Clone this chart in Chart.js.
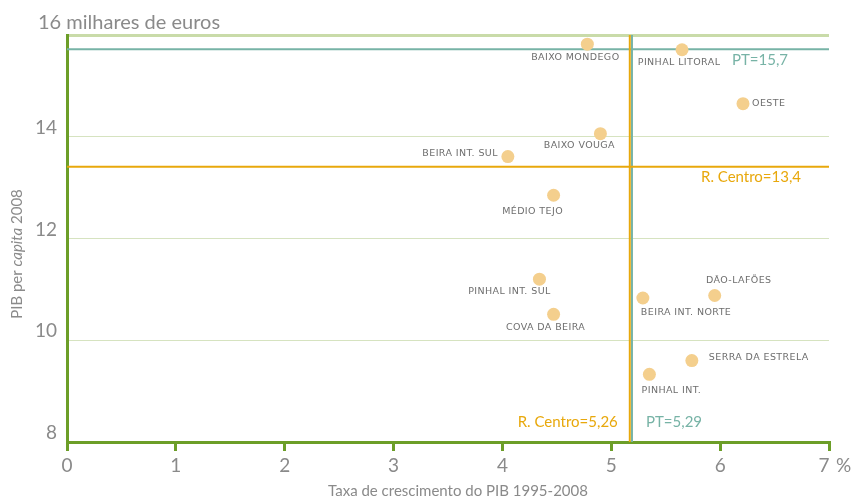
<!DOCTYPE html>
<html lang="pt">
<head>
  <meta charset="UTF-8" />
  <title>PIB per capita e crescimento - Região Centro</title>
  <script src="https://cdn.jsdelivr.net/npm/chart.js@4.4.1/dist/chart.umd.min.js"></script>
  <style>
    html, body { margin: 0; padding: 0; background: #fff; }
    #wrap { width: 852px; height: 499px; position: relative; }
  </style>
</head>
<body>
  <div id="wrap"><canvas id="chart"></canvas></div>

  <script>
    // data
    const regions = [
      "BAIXO MONDEGO", "PINHAL LITORAL", "OESTE", "BAIXO VOUGA",
      "BEIRA INT. SUL", "MÉDIO TEJO", "PINHAL INT. SUL", "COVA DA BEIRA",
      "BEIRA INT. NORTE", "DÃO-LAFÕES", "SERRA DA ESTRELA", "PINHAL INT."
    ];
    const growth = [4.78, 5.65, 6.21, 4.90, 4.05, 4.47, 4.34, 4.47, 5.29, 5.95, 5.74, 5.35];
    const gdpPerCapita = [15.82, 15.71, 14.65, 14.06, 13.61, 12.85, 11.20, 10.51, 10.83, 10.88, 9.60, 9.33];

    const xTicks = [0, 1, 2, 3, 4, 5, 6, 7];
    const yTicks = [8, 10, 12, 14, 16];

    // reference lines: Portugal and Região Centro
    const refNames = ["PT", "R. Centro"];
    const refGdp = [15.72, 13.41];
    const refGrowth = [5.19, 5.17];
    const refGdpText = ["PT=15,7", "R. Centro=13,4"];
    const refGrowthText = ["PT=5,29", "R. Centro=5,26"];

    // where each region's name sits relative to its dot
    const labelPos = [
      { dx: -12, dy: 13, align: "center" },
      { dx: -3, dy: 13, align: "center" },
      { dx: 9, dy: 0, align: "left" },
      { dx: -21, dy: 12, align: "center" },
      { dx: -10, dy: -3, align: "right" },
      { dx: -21, dy: 16, align: "center" },
      { dx: -30, dy: 12, align: "center" },
      { dx: -8, dy: 13, align: "center" },
      { dx: -2, dy: 15, align: "left" },
      { dx: 24, dy: -15, align: "center" },
      { dx: 17, dy: -3, align: "left" },
      { dx: 22, dy: 16, align: "center" }
    ];

    const GREEN = "#6c9e28";
    const TEAL = "#77b3a6";
    const ORANGE = "#e8a80c";
    const DOT = "#f4cf8d";
    const GREY = "#8a8a8a";
    const LABEL_GREY = "#6e6e6e";

    const points = growth.map((g, i) => ({ x: g, y: gdpPerCapita[i] }));

    const textPlugin = {
      id: "texts",
      afterDraw(chart) {
        const ctx = chart.ctx;
        const xs = chart.scales.x;
        const ys = chart.scales.y;
        ctx.save();

        // region names
        const meta = chart.getDatasetMeta(0);
        ctx.font = "9.5px 'DejaVu Sans'";
        ctx.fillStyle = LABEL_GREY;
        ctx.textBaseline = "middle";
        ctx.letterSpacing = "0.4px";
        meta.data.forEach((pt, i) => {
          const p = labelPos[i];
          ctx.textAlign = p.align;
          ctx.fillText(regions[i], pt.x + p.dx, pt.y + p.dy);
        });
        ctx.letterSpacing = "0px";

        // reference line labels
        ctx.font = "15px Lato";
        ctx.textAlign = "left";
        ctx.fillStyle = TEAL;
        ctx.fillText(refGdpText[0], 732, ys.getPixelForValue(refGdp[0]) + 11);
        ctx.fillStyle = ORANGE;
        ctx.fillText(refGdpText[1], 701, ys.getPixelForValue(refGdp[1]) + 10);
        ctx.fillStyle = TEAL;
        ctx.fillText(refGrowthText[0], xs.getPixelForValue(refGrowth[0]) + 14, 422);
        ctx.fillStyle = ORANGE;
        ctx.textAlign = "right";
        ctx.fillText(refGrowthText[1], xs.getPixelForValue(refGrowth[1]) - 12, 422);

        // y tick labels
        ctx.fillStyle = GREY;
        ctx.textBaseline = "alphabetic";
        yTicks.forEach(v => {
          const y = ys.getPixelForValue(v);
          if (v === 16) {
            ctx.font = "20px Lato";
            ctx.textAlign = "left";
            ctx.fillText("16 milhares de euros", 38, y - 6);
          } else {
            ctx.font = "19px Lato";
            ctx.textAlign = "right";
            ctx.fillText(String(v), 57, y - 3);
          }
        });

        // x tick labels
        ctx.font = "19px Lato";
        ctx.textAlign = "center";
        ctx.textBaseline = "middle";
        xTicks.forEach(v => {
          const x = xs.getPixelForValue(v);
          ctx.fillText(String(v), x - (v === 7 ? 5 : 0), 466);
        });
        ctx.textAlign = "left";
        ctx.fillText("%", xs.getPixelForValue(7) + 7, 466);

        // axis titles
        ctx.font = "15px Lato";
        ctx.textAlign = "center";
        ctx.fillText("Taxa de crescimento do PIB 1995-2008", 458, 491);

        ctx.translate(17, 254);
        ctx.rotate(-Math.PI / 2);
        const parts = [["PIB per ", "15px Lato"], ["capita", "italic 15px Lato"], [" 2008", "15px Lato"]];
        let total = 0;
        parts.forEach(([t, f]) => { ctx.font = f; total += ctx.measureText(t).width; });
        let cx = -total / 2;
        ctx.textAlign = "left";
        parts.forEach(([t, f]) => {
          ctx.font = f;
          ctx.fillText(t, cx, 0);
          cx += ctx.measureText(t).width;
        });
        ctx.restore();
      }
    };

    const refDatasets = [
      {
        type: "line",
        label: refNames[0] + " PIB",
        data: [{ x: 0, y: refGdp[0] }, { x: 7, y: refGdp[0] }],
        borderColor: TEAL, borderWidth: 2, pointRadius: 0, order: 2
      },
      {
        type: "line",
        label: refNames[1] + " PIB",
        data: [{ x: 0, y: refGdp[1] }, { x: 7, y: refGdp[1] }],
        borderColor: ORANGE, borderWidth: 2, pointRadius: 0, order: 2
      },
      {
        type: "line",
        label: refNames[0] + " crescimento",
        data: [{ x: refGrowth[0], y: 8 }, { x: refGrowth[0], y: 16 }],
        borderColor: TEAL, borderWidth: 2, pointRadius: 0, order: 2
      },
      {
        type: "line",
        label: refNames[1] + " crescimento",
        data: [{ x: refGrowth[1], y: 8 }, { x: refGrowth[1], y: 16 }],
        borderColor: ORANGE, borderWidth: 2, pointRadius: 0, order: 1
      }
    ];

    new Chart(document.getElementById("chart"), {
      type: "scatter",
      data: {
        datasets: [
          {
            label: "NUTS III",
            data: points,
            backgroundColor: DOT,
            borderWidth: 0,
            pointRadius: 6.5,
            order: 0
          },
          ...refDatasets
        ]
      },
      options: {
        responsive: true,
        maintainAspectRatio: false,
        animation: false,
        layout: { padding: { top: 35, right: 23, left: 0, bottom: 0 } },
        plugins: {
          legend: { display: false },
          tooltip: { enabled: false }
        },
        scales: {
          x: {
            type: "linear",
            min: 0,
            max: 7,
            afterFit: s => { s.height = 57; },
            ticks: { display: false, stepSize: 1 },
            border: { display: true, color: GREEN, width: 3 },
            grid: {
              drawOnChartArea: false,
              drawTicks: true,
              tickLength: 9,
              color: GREEN,
              lineWidth: 3
            }
          },
          y: {
            type: "linear",
            min: 8,
            max: 16,
            afterFit: s => { s.width = 67; },
            ticks: { display: false, stepSize: 2 },
            border: { display: true, color: GREEN, width: 3 },
            grid: {
              drawTicks: false,
              color: c => c.tick.value === 16 ? "#c9dba9" : (c.tick.value === 8 ? "rgba(0,0,0,0)" : "#d6e3c0"),
              lineWidth: c => c.tick.value === 16 ? 3 : 1
            }
          }
        }
      },
      plugins: [textPlugin]
    });
  </script>
</body>
</html>
